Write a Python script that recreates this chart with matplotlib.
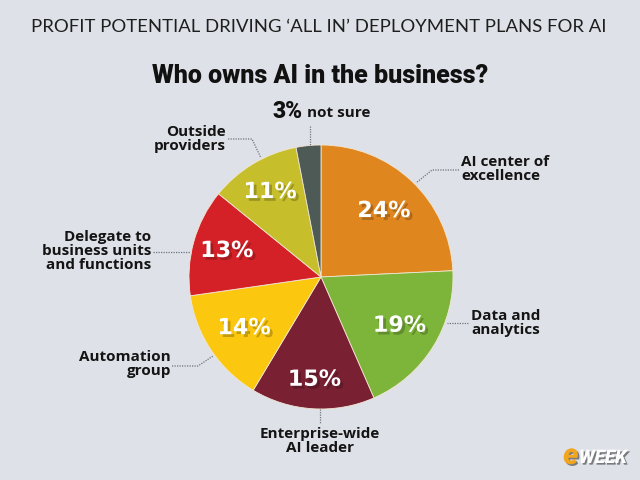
import matplotlib
matplotlib.use("Agg")
import matplotlib.pyplot as plt
import matplotlib.patheffects as pe
import numpy as np

header = "PROFIT POTENTIAL DRIVING \u2018ALL IN\u2019 DEPLOYMENT PLANS FOR AI"
title = "Who owns AI in the business?"
categories = ["AI center of\nexcellence", "Data and\nanalytics", "Enterprise-wide\nAI leader",
              "Automation\ngroup", "Delegate to\nbusiness units\nand functions",
              "Outside\nproviders", "not sure"]
values = [24, 19, 15, 14, 13, 11, 3]
colors = ["#E0861F", "#7DB53B", "#7A2033", "#FBC70F", "#D42128", "#C6BE2B", "#4E5A55"]

BG = "#DEE1E7"
W, H = 640, 480
fig = plt.figure(figsize=(6.4, 4.8), dpi=100, facecolor=BG)
ax = fig.add_axes([0, 0, 1, 1])
ax.set_facecolor(BG)

cx, cy, R = 321, 480 - 277, 132
wedges, _ = ax.pie(values, colors=colors, startangle=90, counterclock=False,
                   center=(cx, cy), radius=R, frame=False,
                   wedgeprops=dict(edgecolor="#F2E6D0", linewidth=0.6))
ax.set_xlim(0, W)
ax.set_ylim(0, H)
ax.set_aspect("equal")
ax.axis("off")

def Y(y):
    return H - y

LAB = "Open Sans"
shadow = [pe.withSimplePatchShadow(offset=(2, -2), shadow_rgbFace="#000000", alpha=0.22)]

# percentage labels inside wedges
pct_dist = [0.69, 0.70, 0.78, 0.70, 0.74, 0.75]
for w, v, d in zip(wedges, values, pct_dist + [0]):
    if v < 5:
        continue
    ang = np.deg2rad((w.theta1 + w.theta2) / 2)
    x = cx + d * R * np.cos(ang)
    y = cy + d * R * np.sin(ang)
    ax.text(x, y, f"{v}%", ha="center", va="center", color="white",
            fontsize=16, fontweight="bold", family="DejaVu Sans", path_effects=shadow)

# header and title
ax.text(319, Y(27), header, ha="center", va="center", fontsize=13.3,
        family="Lato", fontweight="normal", color="#1E1E1E")
ax.text(320, Y(76), title, ha="center", va="center", fontsize=18,
        family="Roboto", fontweight="black", color="#111111")

lab_kw = dict(fontsize=11, family=LAB, fontweight="bold", color="#141414",
              linespacing=1.0, va="center")
dot = dict(color="#6E7480", linewidth=0.9, linestyle=(0, (1, 1)))

# AI center of excellence
ax.text(461, Y(169), categories[0], ha="left", **lab_kw)
ax.plot([459, 432, 416], [Y(170), Y(170), Y(183)], **dot)
# Data and analytics
ax.text(471, Y(323), categories[1], ha="left", **lab_kw)
ax.plot([468, 447], [Y(323), Y(323)], **dot)
# Enterprise-wide AI leader
ax.text(320, Y(441), categories[2], ha="center", **lab_kw)
ax.plot([320, 320], [Y(409), Y(424)], **dot)
# Automation group
ax.text(171, Y(364), categories[3], ha="right", multialignment="right", **lab_kw)
ax.plot([172, 198, 213], [Y(366), Y(366), Y(356)], **dot)
# Delegate
ax.text(151, Y(251), categories[4], ha="right", multialignment="right", **lab_kw)
ax.plot([153, 190], [Y(252), Y(252)], **dot)
# Outside providers
ax.text(226, Y(139), categories[5], ha="right", multialignment="right", **lab_kw)
ax.plot([228, 252, 261], [Y(139), Y(139), Y(158)], **dot)
# 3% not sure
ax.text(303, Y(112), f"{values[6]}%", ha="right", va="center", fontsize=16.5,
        family="Roboto", fontweight="black", color="#111111")
ax.text(307, Y(113), categories[6], ha="left", va="center", fontsize=11,
        family=LAB, fontweight="bold", color="#141414")
ax.plot([310, 310], [Y(126), Y(145)], **dot)

# eWEEK logo
logo_shadow = [pe.withSimplePatchShadow(offset=(1.2, -1.2), shadow_rgbFace="#000000", alpha=0.45)]
ax.text(563, Y(456), "e", ha="left", va="center", fontsize=21, family="Roboto",
        fontweight="black", style="italic", color="#F2A51F", path_effects=logo_shadow)
ax.text(579, Y(458), "WEEK", ha="left", va="center", fontsize=13.5, family="Roboto",
        fontweight="black", style="italic", color="white", path_effects=logo_shadow)

fig.savefig("out.png", dpi=100, facecolor=BG)
